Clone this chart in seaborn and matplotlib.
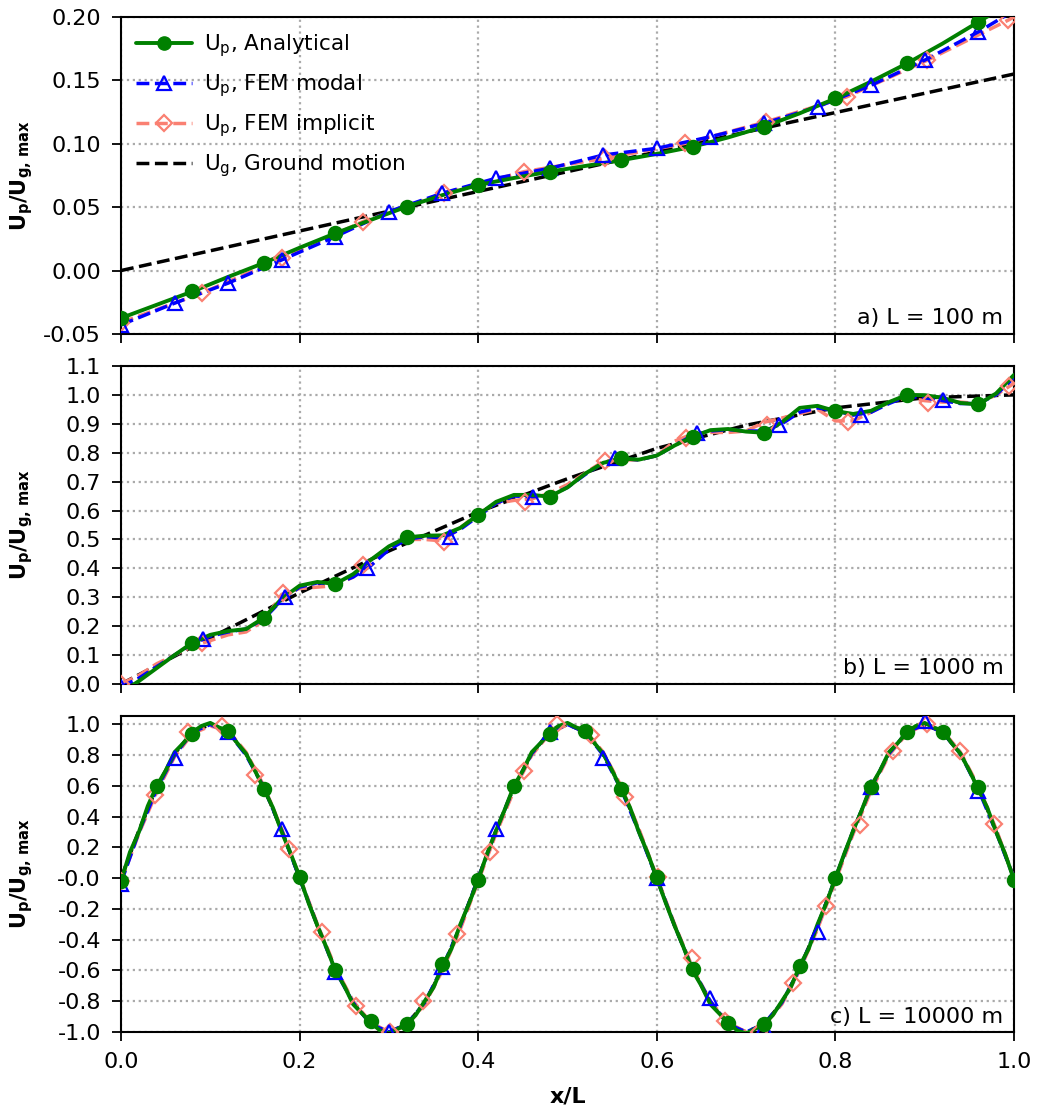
import numpy as np
import matplotlib
matplotlib.use("Agg")
import matplotlib.pyplot as plt
from matplotlib.lines import Line2D
import seaborn as sns

# ---------------------------------------------------------------- data
labels = [r"U$_\mathrm{p}$, Analytical", r"U$_\mathrm{p}$, FEM modal",
          r"U$_\mathrm{p}$, FEM implicit", r"U$_\mathrm{g}$, Ground motion"]
panel_titles = ["a) L = 100 m", "b) L = 1000 m", "c) L = 10000 m"]
xticks = [0.0, 0.2, 0.4, 0.6, 0.8, 1.0]
xtick_labels = ["0.0", "0.2", "0.4", "0.6", "0.8", "1.0"]

# ---- panel a (L = 100 m)
a_yticks = [-0.05, 0.0, 0.05, 0.10, 0.15, 0.20]
a_ytick_labels = ["-0.05", "0.00", "0.05", "0.10", "0.15", "0.20"]
a_ana_x = [0.00, 0.04, 0.08, 0.12, 0.16, 0.20, 0.24, 0.28, 0.32, 0.36, 0.40, 0.44, 0.48,
           0.52, 0.56, 0.60, 0.64, 0.68, 0.72, 0.76, 0.80, 0.84, 0.88, 0.92, 0.96, 1.00]
a_ana_y = [-0.0375, -0.027, -0.0165, -0.005, 0.006, 0.018, 0.0294, 0.040, 0.0504, 0.0595,
           0.0675, 0.073, 0.078, 0.0825, 0.087, 0.092, 0.0976, 0.105, 0.1134, 0.124,
           0.1357, 0.149, 0.1633, 0.179, 0.196, 0.213]
a_circ_x = [0.00, 0.08, 0.16, 0.24, 0.32, 0.40, 0.48, 0.56, 0.64, 0.72, 0.80, 0.88, 0.96]
a_circ_y = [-0.0375, -0.0165, 0.006, 0.0294, 0.0504, 0.0675, 0.078, 0.087, 0.0976, 0.1134,
            0.1357, 0.1633, 0.196]
a_modal_x = [0.00, 0.06, 0.12, 0.18, 0.24, 0.30, 0.36, 0.42, 0.48, 0.54, 0.60, 0.66, 0.72,
             0.78, 0.84, 0.90, 0.96, 1.00]
a_modal_y = [-0.0428, -0.0257, -0.0099, 0.0084, 0.0268, 0.0465, 0.0610, 0.0728, 0.0806,
             0.0911, 0.0964, 0.1055, 0.1160, 0.1291, 0.1462, 0.1659, 0.1882, 0.205]
a_impl_x = [0.0, 0.0903, 0.1806, 0.2709, 0.3612, 0.4515, 0.5418, 0.6321, 0.7224, 0.8127,
            0.9030, 0.9933, 1.0]
a_impl_y = [-0.041, -0.0178, 0.0098, 0.0386, 0.061, 0.078, 0.0885, 0.1003, 0.1173, 0.137,
            0.1659, 0.1974, 0.200]
a_ground_x = [0.0, 0.25, 0.5, 0.75, 1.0]
a_ground_y = [0.0, 0.039, 0.078, 0.117, 0.155]

# ---- panel b (L = 1000 m)
b_yticks = [0.0, 0.1, 0.2, 0.3, 0.4, 0.5, 0.6, 0.7, 0.8, 0.9, 1.0, 1.1]
b_ytick_labels = ["0.0", "0.1", "0.2", "0.3", "0.4", "0.5", "0.6", "0.7", "0.8", "0.9",
                  "1.0", "1.1"]
b_x = [0.00, 0.02, 0.04, 0.06, 0.08, 0.10, 0.12, 0.14, 0.16, 0.18, 0.20, 0.22, 0.24, 0.26,
       0.28, 0.30, 0.32, 0.34, 0.36, 0.38, 0.40, 0.42, 0.44, 0.46, 0.48, 0.50, 0.52, 0.54,
       0.56, 0.58, 0.60, 0.62, 0.64, 0.66, 0.68, 0.70, 0.72, 0.74, 0.76, 0.78, 0.80, 0.82,
       0.84, 0.86, 0.88, 0.90, 0.92, 0.94, 0.96, 0.98, 1.00]
b_ana_y = [-0.03, 0.01, 0.055, 0.100, 0.143, 0.170, 0.183, 0.190, 0.229, 0.295, 0.340,
           0.353, 0.346, 0.380, 0.430, 0.476, 0.507, 0.513, 0.514, 0.540, 0.585, 0.630,
           0.654, 0.654, 0.648, 0.680, 0.728, 0.765, 0.780, 0.776, 0.790, 0.825, 0.855,
           0.878, 0.882, 0.873, 0.869, 0.905, 0.955, 0.962, 0.944, 0.934, 0.945, 0.975,
           1.000, 0.999, 0.990, 0.972, 0.967, 1.005, 1.069]
b_modal_y = [-0.01, 0.02, 0.06, 0.10, 0.14, 0.165, 0.18, 0.19, 0.225, 0.29, 0.335, 0.35,
             0.345, 0.37, 0.41, 0.465, 0.50, 0.51, 0.505, 0.535, 0.58, 0.625, 0.65, 0.648,
             0.65, 0.68, 0.725, 0.765, 0.78, 0.775, 0.79, 0.825, 0.86, 0.875, 0.88, 0.875,
             0.875, 0.90, 0.94, 0.955, 0.945, 0.93, 0.94, 0.97, 0.995, 0.99, 0.98, 0.97,
             0.97, 1.00, 1.06]
b_impl_y = [0.0, 0.03, 0.07, 0.10, 0.13, 0.15, 0.17, 0.18, 0.22, 0.31, 0.33, 0.335, 0.34,
            0.37, 0.43, 0.47, 0.50, 0.50, 0.495, 0.54, 0.59, 0.625, 0.635, 0.64, 0.66, 0.69,
            0.73, 0.77, 0.775, 0.775, 0.79, 0.84, 0.865, 0.87, 0.87, 0.875, 0.905, 0.92,
            0.935, 0.95, 0.91, 0.91, 0.94, 0.975, 0.99, 0.98, 0.975, 0.975, 0.97, 1.00, 1.04]
b_circ_x = [0.00, 0.08, 0.16, 0.24, 0.32, 0.40, 0.48, 0.56, 0.64, 0.72, 0.80, 0.88, 0.96]
b_circ_y = [-0.03, 0.143, 0.229, 0.346, 0.507, 0.585, 0.648, 0.780, 0.855, 0.869, 0.944,
            1.000, 0.967]
b_tri_x = [0.0, 0.092, 0.184, 0.276, 0.368, 0.461, 0.553, 0.645, 0.737, 0.829, 0.921]
b_tri_y = [-0.01, 0.157, 0.301, 0.400, 0.509, 0.648, 0.780, 0.867, 0.896, 0.930, 0.982]
b_dia_x = [0.0, 0.0904, 0.181, 0.271, 0.362, 0.452, 0.542, 0.633, 0.723, 0.814, 0.904, 0.994]
b_dia_y = [0.0, 0.140, 0.313, 0.411, 0.492, 0.630, 0.770, 0.852, 0.896, 0.907, 0.971, 1.030]
b_ground_x = [0.0, 0.1, 0.2, 0.3, 0.4, 0.5, 0.6, 0.7, 0.8, 0.9, 1.0]
b_ground_y = [0.0, 0.16, 0.315, 0.46, 0.595, 0.71, 0.815, 0.895, 0.955, 0.99, 1.0]

# ---- panel c (L = 10000 m)
c_yticks = [-1.0, -0.8, -0.6, -0.4, -0.2, 0.0, 0.2, 0.4, 0.6, 0.8, 1.0]
c_ytick_labels = ["-1.0", "-0.8", "-0.6", "-0.4", "-0.2", "-0.0", "0.2", "0.4", "0.6",
                  "0.8", "1.0"]
c_fine_x = [round(0.01 * k, 2) for k in range(101)]
c_ana_y = [-0.02, 0.17, 0.30, 0.47, 0.60, 0.70, 0.82, 0.88, 0.95, 0.99,
           1.01, 0.98, 0.96, 0.88, 0.81, 0.70, 0.58, 0.46, 0.30, 0.16,
           0.01, -0.16, -0.31, -0.45, -0.60, -0.70, -0.82, -0.88, -0.94, -0.99,
           -1.01, -0.98, -0.95, -0.89, -0.80, -0.71, -0.57, -0.46, -0.30, -0.16,
           -0.01, 0.16, 0.31, 0.45, 0.60, 0.70, 0.82, 0.88, 0.95, 0.99,
           1.01, 0.98, 0.96, 0.88, 0.81, 0.70, 0.58, 0.46, 0.30, 0.16,
           0.00, -0.16, -0.31, -0.45, -0.60, -0.70, -0.82, -0.88, -0.94, -0.99,
           -1.01, -0.98, -0.95, -0.89, -0.80, -0.71, -0.57, -0.46, -0.30, -0.16,
           0.00, 0.16, 0.31, 0.45, 0.60, 0.70, 0.82, 0.88, 0.95, 0.99,
           1.01, 0.98, 0.96, 0.88, 0.81, 0.70, 0.58, 0.46, 0.30, 0.16,
           -0.01]
c_x = [round(0.02 * k, 2) for k in range(51)]
c_ground_y = [0.0, 0.31, 0.59, 0.81, 0.95, 1.0, 0.95, 0.81, 0.59, 0.31,
              0.0, -0.31, -0.59, -0.81, -0.95, -1.0, -0.95, -0.81, -0.59, -0.31,
              0.0, 0.31, 0.59, 0.81, 0.95, 1.0, 0.95, 0.81, 0.59, 0.31,
              0.0, -0.31, -0.59, -0.81, -0.95, -1.0, -0.95, -0.81, -0.59, -0.31,
              0.0, 0.31, 0.59, 0.81, 0.95, 1.0, 0.95, 0.81, 0.59, 0.31, 0.0]
c_modal_y = [-0.03, 0.30, 0.58, 0.80, 0.95, 1.0, 0.95, 0.80, 0.59, 0.31,
             0.0, -0.31, -0.60, -0.81, -0.95, -1.0, -0.95, -0.81, -0.58, -0.31,
             0.0, 0.31, 0.59, 0.81, 0.95, 1.0, 0.95, 0.80, 0.58, 0.30,
             0.0, -0.31, -0.59, -0.80, -0.95, -1.0, -0.95, -0.81, -0.59, -0.31,
             0.0, 0.31, 0.59, 0.81, 0.95, 1.0, 0.95, 0.81, 0.58, 0.30, 0.0]
c_impl_y = [-0.02, 0.29, 0.56, 0.79, 0.94, 0.99, 0.96, 0.82, 0.60, 0.32,
            0.01, -0.30, -0.58, -0.80, -0.94, -1.0, -0.96, -0.82, -0.60, -0.33,
            -0.02, 0.29, 0.57, 0.80, 0.94, 1.0, 0.96, 0.82, 0.60, 0.32,
            0.01, -0.30, -0.58, -0.80, -0.94, -1.0, -0.96, -0.82, -0.60, -0.33,
            -0.02, 0.29, 0.57, 0.80, 0.94, 1.0, 0.96, 0.82, 0.60, 0.32, 0.0]
c_circ_x = [round(0.04 * k, 2) for k in range(26)]
c_circ_y = [-0.02, 0.60, 0.94, 0.96, 0.58, 0.01, -0.60, -0.93, -0.95, -0.56,
            -0.01, 0.60, 0.94, 0.96, 0.58, 0.01, -0.59, -0.94, -0.95, -0.57,
            0.00, 0.59, 0.95, 0.95, 0.59, -0.01]
c_tri_x = [round(0.06 * k, 2) for k in range(17)]
c_tri_y = [-0.04, 0.78, 0.95, 0.32, -0.61, -1.00, -0.575, 0.32, 0.95, 0.78,
           0.00, -0.78, -0.97, -0.35, 0.59, 1.02, 0.57]
c_dia_x = [round(0.0376 * k, 4) for k in range(27)]
c_dia_y = [-0.02, 0.54, 0.95, 0.99, 0.67, 0.19, -0.35, -0.83, -1.00, -0.80,
           -0.36, 0.17, 0.70, 1.00, 0.93, 0.53, 0.01, -0.52, -0.93, -1.00,
           -0.68, -0.18, 0.345, 0.83, 1.00, 0.83, 0.35]

# ---------------------------------------------------------------- style
sns.set_theme(style="ticks")
plt.rcParams["font.family"] = ["DejaVu Sans"]
plt.rcParams["axes.unicode_minus"] = False
plt.rcParams["mathtext.fontset"] = "dejavusans"
for k in ["text.color", "axes.labelcolor", "xtick.color", "ytick.color",
          "xtick.labelcolor", "ytick.labelcolor", "axes.edgecolor"]:
    plt.rcParams[k] = "black"

FS = 16
GREEN, BLUE, SALMON, BLACK = "green", "blue", "salmon", "black"

fig = plt.figure(figsize=(10.37, 11.08), dpi=100)
left, width = 0.1167, 0.8611
ax_a = fig.add_axes([left, 0.6986, width, 0.2861])
ax_b = fig.add_axes([left, 0.3827, width, 0.2870])
ax_c = fig.add_axes([left, 0.0686, width, 0.2852])


def line(ax, x, y, color, ls, lw, z):
    sns.lineplot(x=x, y=y, ax=ax, color=color, linestyle=ls, linewidth=lw, zorder=z,
                 errorbar=None, estimator=None, sort=False, legend=False)


def marks(ax, x, y, marker, ms, color, filled, z):
    sns.lineplot(x=x, y=y, ax=ax, color=color, linestyle="none", marker=marker,
                 markersize=ms, markerfacecolor=(color if filled else "none"),
                 mec=color, mew=1.6, zorder=z, errorbar=None, estimator=None,
                 sort=False, legend=False)


def panel(ax, ana, modal, impl, ground, circ, tri, dia):
    line(ax, *ground, BLACK, "--", 2.5, 2)
    line(ax, *impl, SALMON, "--", 2.5, 3)
    line(ax, *modal, BLUE, "--", 2.5, 4)
    line(ax, *ana, GREEN, "-", 2.8, 5)
    marks(ax, *dia, "D", 8, SALMON, False, 6)
    marks(ax, *tri, "^", 9.5, BLUE, False, 7)
    marks(ax, *circ, "o", 9.5, GREEN, True, 8)


panel(ax_a, (a_ana_x, a_ana_y), (a_modal_x, a_modal_y), (a_impl_x, a_impl_y),
      (a_ground_x, a_ground_y), (a_circ_x, a_circ_y), (a_modal_x[:-1], a_modal_y[:-1]),
      (a_impl_x[:-1], a_impl_y[:-1]))
panel(ax_b, (b_x, b_ana_y), (b_x, b_modal_y), (b_x, b_impl_y), (b_ground_x, b_ground_y),
      (b_circ_x, b_circ_y), (b_tri_x, b_tri_y), (b_dia_x, b_dia_y))
panel(ax_c, (c_fine_x, c_ana_y), (c_x, c_modal_y), (c_x, c_impl_y), (c_x, c_ground_y),
      (c_circ_x, c_circ_y), (c_tri_x, c_tri_y), (c_dia_x, c_dia_y))

ylims = [(-0.05, 0.20), (0.0, 1.1), (-1.0, 1.055)]
yt = [(a_yticks, a_ytick_labels), (b_yticks, b_ytick_labels), (c_yticks, c_ytick_labels)]
for i, ax in enumerate([ax_a, ax_b, ax_c]):
    ax.set_xlim(0, 1)
    ax.set_ylim(*ylims[i])
    ax.set_xticks(xticks)
    ax.set_yticks(yt[i][0])
    ax.set_yticklabels(yt[i][1])
    if i < 2:
        ax.set_xticklabels([])
    else:
        ax.set_xticklabels(xtick_labels)
    ax.tick_params(direction="out", length=6.5, width=1.3, pad=8, labelsize=FS,
                   colors="black")
    ax.grid(True, linestyle=":", color="#aaaaaa", linewidth=1.6, zorder=0)
    ax.set_axisbelow(True)
    for s in ax.spines.values():
        s.set_visible(True)
        s.set_color("black")
        s.set_linewidth(1.5)
    ax.set_ylabel(r"$\mathbf{U_p/U_{g,\,max}}$", fontsize=15, color="black")
    ax.yaxis.set_label_coords(-0.096, 0.5)
    ax.set_xlabel("")
    ax.text(0.988, 0.03, panel_titles[i], transform=ax.transAxes, ha="right",
            va="baseline", fontsize=FS, zorder=10, color="black")

ax_c.set_xlabel("x/L", fontsize=FS, fontweight="bold", labelpad=10, color="black")

handles = [
    Line2D([], [], color=GREEN, lw=2.8, marker="o", ms=9.5),
    Line2D([], [], color=BLUE, lw=2.5, ls="--", marker="^", ms=9.5, mfc="none", mew=1.6),
    Line2D([], [], color=SALMON, lw=2.5, ls="--", marker="D", ms=8, mfc="none", mew=1.6),
    Line2D([], [], color=BLACK, lw=2.5, ls="--"),
]
leg = ax_a.legend(handles, labels, loc="upper left", frameon=False, fontsize=15.5,
                  handlelength=2.6, handletextpad=0.55, labelspacing=0.62,
                  borderaxespad=0.3)
for t in leg.get_texts():
    t.set_color("black")

fig.savefig("out.png", dpi=100)
